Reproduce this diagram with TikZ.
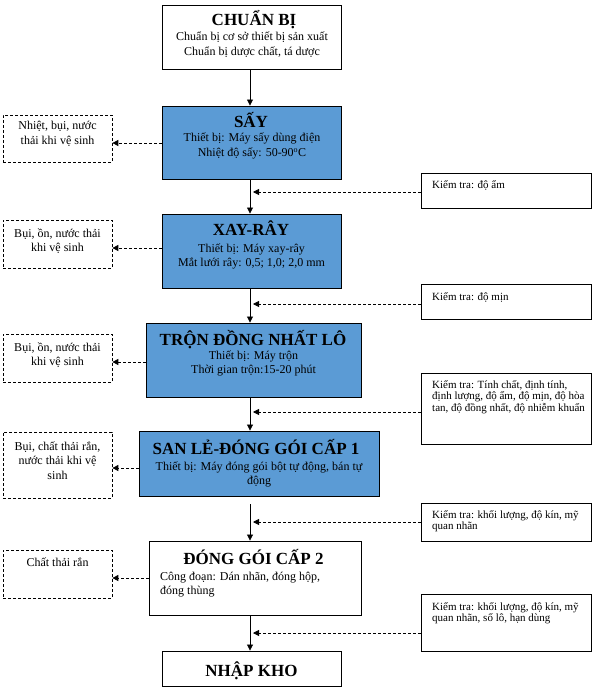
\documentclass[tikz,border=0pt]{standalone}
\usepackage{fontspec}
\setmainfont{Liberation Serif}
\usetikzlibrary{arrows.meta,calc}
\definecolor{boxblue}{HTML}{5B9BD5}
\begin{document}
\begin{tikzpicture}[x=1pt,y=-1pt,
  frame/.style={draw=black, line width=0.9pt, inner sep=0pt},
  bluebox/.style={frame, fill=boxblue},
  sidebox/.style={draw=black, line width=0.7pt, dash pattern=on 3pt off 2pt, inner sep=0pt},
  checkbox/.style={draw=black, line width=0.8pt, inner sep=0pt},
  ttl/.style={font=\fontsize{17}{19}\selectfont\bfseries, inner sep=0pt, anchor=base},
  body/.style={font=\fontsize{12}{14.5}\selectfont, align=center, inner sep=0pt, anchor=base},
  sidetxt/.style={font=\fontsize{12}{14.5}\selectfont, align=center, inner sep=0pt, anchor=base},
  chktxt/.style={font=\fontsize{11}{11.5}\selectfont, align=left, inner sep=0pt, anchor=base west},
  flow/.style={line width=0.8pt, -{Triangle[length=6pt,width=6pt]}},
  dflow/.style={flow, dash pattern=on 3pt off 2pt}]
\useasboundingbox (0,0) rectangle (596,692);
\coordinate (axis) at (250,0);
\coordinate (axisr) at (253,0);

% main boxes
\node[frame, minimum width=179pt, minimum height=64pt] (chuanbi) at (251.5,37) {};
\node[bluebox, minimum width=179pt, minimum height=73pt] (say) at (251.5,142.5) {};
\node[bluebox, minimum width=179pt, minimum height=74pt] (xay) at (251.5,251) {};
\node[bluebox, minimum width=215pt, minimum height=74pt] (tron) at (253.5,360) {};
\node[bluebox, minimum width=240pt, minimum height=65pt] (san) at (259,463.5) {};
\node[frame, minimum width=212pt, minimum height=74pt] (dong) at (255,578) {};
\node[frame, minimum width=179pt, minimum height=35pt] (nhap) at (251.5,668.5) {};

% main texts (multi-line nodes: base = last line)
\node[ttl] (chuanbi-t) at (254,26) {CHUẨN BỊ};
\node[body] (chuanbi-b) at (252,55.5) {Chuẩn bị cơ sở thiết bị sản xuất\\Chuẩn bị dược chất, tá dược};
\node[ttl] (say-t) at (251,128) {SẤY};
\node[body] (say-b) at (252,156.5) {Thiết bị: Máy sấy dùng điện\\Nhiệt độ sấy: 50-90\textsuperscript{o}C};
\node[ttl] (xay-t) at (251,236) {XAY-RÂY};
\node[body] (xay-b) at (251.5,266.5) {Thiết bị: Máy xay-rây\\Mắt lưới rây: 0,5; 1,0; 2,0 mm};
\node[ttl] (tron-t) at (253,345) {TRỘN ĐỒNG NHẤT LÔ};
\node[body] (tron-b) at (253.5,373.5) {Thiết bị: Máy trộn\\Thời gian trộn:15-20 phút};
\node[ttl] (san-t) at (256,454) {SAN LẺ-ĐÓNG GÓI CẤP 1};
\node[body] (san-b) at (259,484.5) {Thiết bị: Máy đóng gói bột tự động, bán tự\\động};
\node[ttl] (dong-t) at (253.5,564) {ĐÓNG GÓI CẤP 2};
\node[body, align=left, anchor=base west] (dong-b) at (160,594.5) {Công đoạn: Dán nhãn, đóng hộp,\\đóng thùng};
\node[ttl] (nhap-t) at (251.5,676) {NHẬP KHO};

% left boxes
\node[sidebox, minimum width=109pt, minimum height=47pt] (l1) at (57.5,138.5) {};
\node[sidebox, minimum width=109pt, minimum height=48pt] (l2) at (57.5,244) {};
\node[sidebox, minimum width=109pt, minimum height=48pt] (l3) at (57.5,358) {};
\node[sidebox, minimum width=109pt, minimum height=66pt] (l4) at (57.5,465) {};
\node[sidebox, minimum width=109pt, minimum height=48pt] (l5) at (57.5,574) {};
\node[sidetxt] (l1-t) at (57.5,144.5) {Nhiệt, bụi, nước\\thải khi vệ sinh};
\node[sidetxt] (l2-t) at (57.5,251.5) {Bụi, ồn, nước thải\\khi vệ sinh};
\node[sidetxt] (l3-t) at (57.5,365.5) {Bụi, ồn, nước thải\\khi vệ sinh};
\node[sidetxt] (l4-t) at (57.5,479) {Bụi, chất thải rắn,\\nước thải khi vệ\\sinh};
\node[sidetxt] (l5-t) at (57.5,566) {Chất thải rắn};

% right boxes
\node[checkbox, minimum width=170pt, minimum height=35pt] (r1) at (506,190.5) {};
\node[checkbox, minimum width=170pt, minimum height=35pt] (r2) at (506,301.5) {};
\node[checkbox, minimum width=170pt, minimum height=71pt] (r3) at (506,408.5) {};
\node[checkbox, minimum width=170pt, minimum height=38pt] (r4) at (506,522) {};
\node[checkbox, minimum width=170pt, minimum height=57pt] (r5) at (506,622.5) {};
\node[chktxt] (r1-t) at (432,189) {Kiểm tra: độ ẩm};
\node[chktxt] (r2-t) at (432,300) {Kiểm tra: độ mịn};
\node[chktxt] (r3-t) at (432,411) {Kiểm tra: Tính chất, định tính,\\định lượng, độ ẩm, độ mịn, độ hòa\\tan, độ đồng nhất, độ nhiễm khuẩn};
\node[chktxt] (r4-t) at (432,529.5) {Kiểm tra: khối lượng, độ kín, mỹ\\quan nhãn};
\node[chktxt] (r5-t) at (432,621.5) {Kiểm tra: khối lượng, độ kín, mỹ\\quan nhãn, số lô, hạn dùng};

% main flow
\draw[flow] (chuanbi.south -| axis) -- (say.north -| axis);
\draw[flow] (say.south -| axis) -- (xay.north -| axis);
\draw[flow] (xay.south -| axis) -- (tron.north -| axis);
\draw[flow] (tron.south -| axis) -- (san.north -| axis);
\draw[flow, shorten <=8pt] (san.south -| axis) -- (dong.north -| axis);
\draw[flow] (dong.south -| axis) -- (nhap.north -| axis);

% outputs to the left
\draw[dflow] (say.west |- 0,143) -- (l1.east |- 0,143);
\draw[dflow] (xay.west |- 0,248) -- (l2.east |- 0,248);
\draw[dflow] (tron.west |- 0,362) -- (l3.east |- 0,362);
\draw[dflow] (san.west |- 0,468) -- (l4.east |- 0,468);
\draw[dflow] (dong.west |- 0,578) -- (l5.east |- 0,578);

% checks from the right
\draw[dflow] (r1.west |- 0,192) -- (axisr |- 0,192);
\draw[dflow] (r2.west |- 0,304) -- (axisr |- 0,304);
\draw[dflow] (r3.west |- 0,412) -- (axisr |- 0,412);
\draw[dflow] (r4.west |- 0,522) -- (axisr |- 0,522);
\draw[dflow] (r5.west |- 0,633) -- (axisr |- 0,633);
\end{tikzpicture}
\end{document}
